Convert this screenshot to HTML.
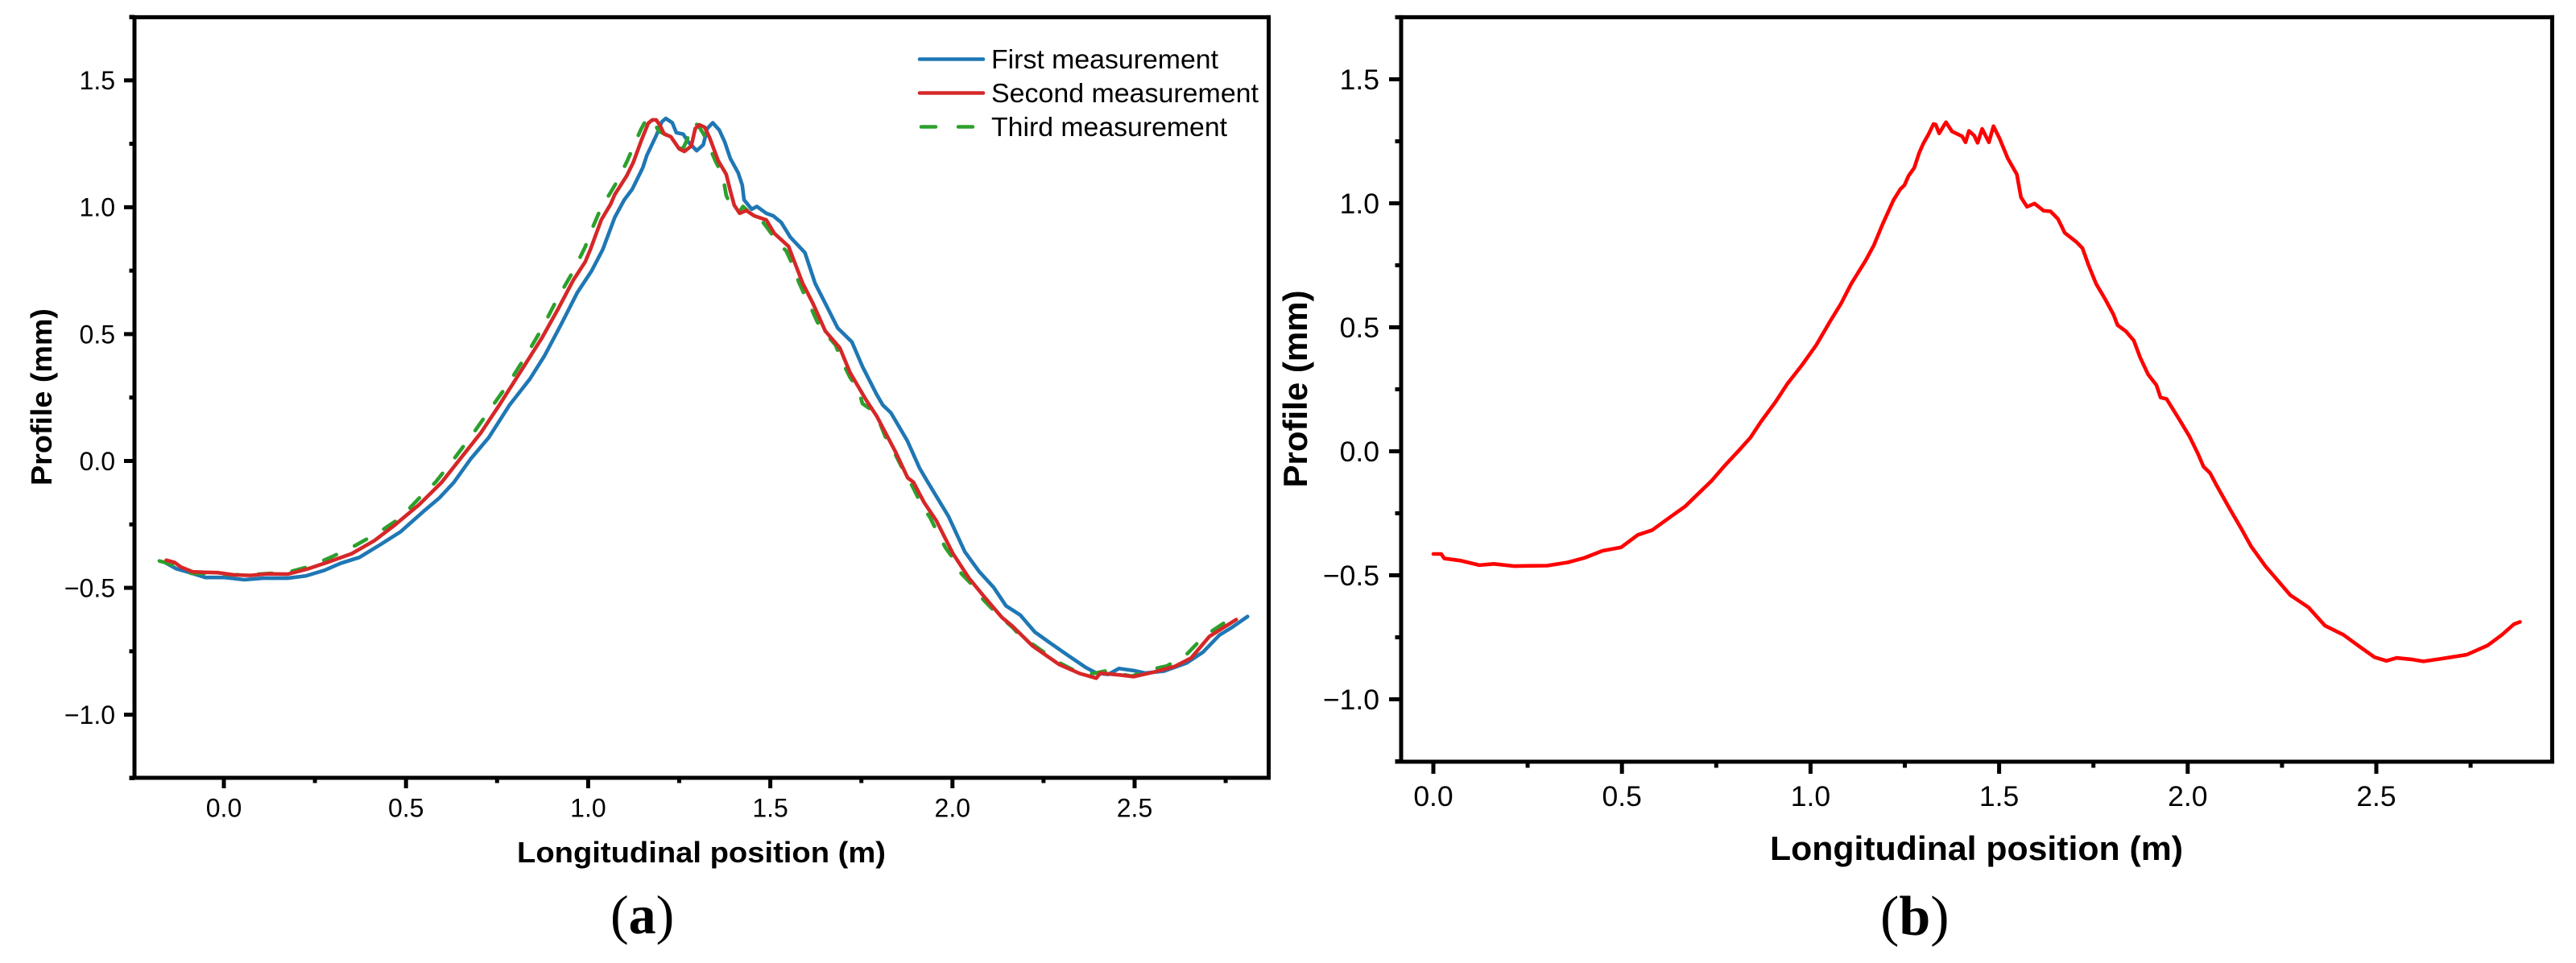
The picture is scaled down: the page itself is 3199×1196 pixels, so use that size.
<!DOCTYPE html>
<html lang="en">
<head>
<meta charset="utf-8">
<title>Longitudinal profile measurements</title>
<style>
html,body{margin:0;padding:0;background:#fff;}
svg{display:block;}
text{font-family:"Liberation Sans",Arial,sans-serif;fill:#000;}
.cap{font-family:"Liberation Serif","Times New Roman",serif;}
</style>
</head>
<body>
<svg id="figure" xmlns="http://www.w3.org/2000/svg" width="3199" height="1196" viewBox="0 0 3199 1196">
  <rect x="0" y="0" width="3199" height="1196" fill="#fff"/>
  <g id="panel-a"></g>
  <g id="panel-b"></g>

  <text x="871" y="1071" font-size="36" font-weight="bold" text-anchor="middle" textLength="458" lengthAdjust="spacingAndGlyphs">Longitudinal position (m)</text>
  <text transform="translate(64 493) rotate(-90)" font-size="36" font-weight="bold" text-anchor="middle" textLength="220" lengthAdjust="spacingAndGlyphs">Profile (mm)</text>
  <text x="2454.5" y="1068" font-size="42" font-weight="bold" text-anchor="middle" textLength="513" lengthAdjust="spacingAndGlyphs">Longitudinal position (m)</text>
  <text transform="translate(1623 483) rotate(-90)" font-size="42" font-weight="bold" text-anchor="middle" textLength="245" lengthAdjust="spacingAndGlyphs">Profile (mm)</text>

  <g>
    <line x1="1142" y1="73.5" x2="1221" y2="73.5" stroke="#1f77b4" stroke-width="4.5" stroke-linecap="round"/>
    <text x="1231" y="85" font-size="33" textLength="282" lengthAdjust="spacingAndGlyphs">First measurement</text>
    <line x1="1142" y1="115.5" x2="1221" y2="115.5" stroke="#d62728" stroke-width="4.5" stroke-linecap="round"/>
    <text x="1231" y="127" font-size="33" textLength="332" lengthAdjust="spacingAndGlyphs">Second measurement</text>
    <line x1="1144" y1="157.5" x2="1221" y2="157.5" stroke="#2ca02c" stroke-width="4.5" stroke-dasharray="18 28" stroke-linecap="round"/>
    <text x="1231" y="169" font-size="33" textLength="293" lengthAdjust="spacingAndGlyphs">Third measurement</text>
  </g>

  <text class="cap" x="758" y="1159" font-size="68">(<tspan font-weight="bold">a</tspan>)</text>
  <text class="cap" x="2335" y="1161" font-size="70">(<tspan font-weight="bold">b</tspan>)</text>
</svg>

<script>
// Tick values and printed labels
const xMajorTicks = [0, 0.5, 1, 1.5, 2, 2.5];
const xMajorLabels = ['0.0', '0.5', '1.0', '1.5', '2.0', '2.5'];
const xMinorTicks = [0.25, 0.75, 1.25, 1.75, 2.25, 2.75];
const yMajorTicks = [-1, -0.5, 0, 0.5, 1, 1.5];
const yMajorLabels = ['\u22121.0', '\u22120.5', '0.0', '0.5', '1.0', '1.5'];
const yMinorTicks = [-1.25, -0.75, -0.25, 0.25, 0.75, 1.25, 1.75];

// Panel (a): first measurement
const firstX = [-0.163,-0.158,-0.13,-0.096,-0.051,0,0.056,0.107,0.175,0.225,0.276,0.321,0.372,0.428,0.485,0.547,0.592,0.631,0.677,0.727,0.784,0.84,0.88,0.925,0.97,1.009,1.04,1.073,1.099,1.121,1.15,1.161,1.187,1.202,1.213,1.231,1.242,1.261,1.275,1.298,1.316,1.327,1.342,1.36,1.375,1.39,1.412,1.423,1.428,1.449,1.463,1.489,1.508,1.53,1.555,1.595,1.623,1.651,1.685,1.724,1.753,1.792,1.809,1.831,1.876,1.91,1.933,1.989,2.034,2.074,2.113,2.147,2.186,2.226,2.265,2.316,2.366,2.395,2.428,2.457,2.497,2.53,2.581,2.643,2.688,2.733,2.767,2.81];
const firstY = [-0.398,-0.403,-0.425,-0.439,-0.459,-0.459,-0.468,-0.462,-0.462,-0.453,-0.431,-0.403,-0.38,-0.331,-0.279,-0.2,-0.145,-0.085,0.007,0.092,0.22,0.323,0.414,0.536,0.663,0.748,0.833,0.96,1.029,1.071,1.156,1.204,1.283,1.336,1.35,1.333,1.294,1.288,1.257,1.223,1.246,1.31,1.333,1.304,1.257,1.193,1.135,1.087,1.029,0.992,1.003,0.976,0.966,0.94,0.882,0.821,0.7,0.621,0.524,0.469,0.372,0.262,0.22,0.19,0.08,-0.029,-0.085,-0.218,-0.358,-0.437,-0.498,-0.571,-0.607,-0.674,-0.714,-0.765,-0.814,-0.836,-0.841,-0.818,-0.826,-0.836,-0.828,-0.796,-0.753,-0.686,-0.656,-0.613];

// Panel (a): second measurement
const secondX = [-0.158,-0.135,-0.118,-0.085,-0.051,-0.017,0.028,0.073,0.118,0.175,0.231,0.287,0.35,0.412,0.468,0.536,0.598,0.648,0.705,0.756,0.818,0.874,0.919,0.959,0.992,1.006,1.036,1.062,1.073,1.106,1.124,1.147,1.165,1.176,1.187,1.198,1.209,1.227,1.25,1.264,1.283,1.294,1.305,1.32,1.334,1.357,1.379,1.39,1.401,1.416,1.434,1.456,1.489,1.511,1.55,1.589,1.617,1.651,1.691,1.719,1.764,1.792,1.843,1.877,1.893,1.922,1.956,2.001,2.045,2.09,2.136,2.164,2.22,2.293,2.35,2.395,2.406,2.463,2.497,2.553,2.61,2.655,2.705,2.779];
const secondY = [-0.391,-0.4,-0.418,-0.437,-0.439,-0.44,-0.449,-0.451,-0.445,-0.446,-0.425,-0.398,-0.366,-0.315,-0.254,-0.172,-0.084,0.007,0.11,0.22,0.36,0.487,0.603,0.712,0.785,0.833,0.95,1.013,1.05,1.124,1.177,1.267,1.331,1.344,1.344,1.32,1.288,1.278,1.23,1.22,1.241,1.31,1.325,1.315,1.272,1.183,1.13,1.066,1.008,0.976,0.987,0.966,0.95,0.897,0.846,0.7,0.621,0.512,0.445,0.348,0.238,0.177,0.038,-0.066,-0.084,-0.163,-0.236,-0.364,-0.461,-0.54,-0.617,-0.65,-0.729,-0.802,-0.838,-0.856,-0.836,-0.844,-0.85,-0.832,-0.81,-0.777,-0.692,-0.625];

// Panel (a): third measurement
const thirdX = [-0.177,-0.147,-0.118,-0.09,-0.039,0.028,0.096,0.175,0.237,0.299,0.361,0.428,0.485,0.541,0.581,0.631,0.682,0.733,0.784,0.829,0.874,0.913,0.959,0.992,1.006,1.029,1.043,1.064,1.082,1.108,1.123,1.144,1.161,1.176,1.194,1.224,1.241,1.26,1.272,1.285,1.301,1.317,1.334,1.351,1.369,1.379,1.395,1.412,1.425,1.449,1.471,1.491,1.519,1.544,1.561,1.578,1.595,1.612,1.629,1.648,1.679,1.696,1.719,1.741,1.753,1.777,1.803,1.815,1.837,1.856,1.877,1.893,1.916,1.939,1.962,1.981,2.007,2.024,2.056,2.075,2.109,2.131,2.165,2.188,2.227,2.272,2.295,2.335,2.358,2.392,2.426,2.465,2.493,2.521,2.55,2.589,2.645,2.673,2.702,2.747,2.764];
const thirdY = [-0.394,-0.406,-0.425,-0.443,-0.443,-0.449,-0.446,-0.439,-0.415,-0.376,-0.333,-0.279,-0.224,-0.139,-0.084,0.007,0.104,0.208,0.311,0.414,0.524,0.633,0.748,0.844,0.899,0.976,1.015,1.064,1.108,1.185,1.235,1.304,1.35,1.347,1.299,1.28,1.241,1.23,1.267,1.331,1.325,1.288,1.233,1.177,1.128,1.047,0.994,0.976,1.003,0.971,0.958,0.92,0.865,0.827,0.773,0.706,0.651,0.603,0.548,0.508,0.457,0.396,0.329,0.284,0.226,0.202,0.141,0.098,0.044,-0.011,-0.066,-0.108,-0.175,-0.224,-0.291,-0.342,-0.394,-0.443,-0.491,-0.532,-0.583,-0.613,-0.656,-0.692,-0.729,-0.775,-0.796,-0.826,-0.841,-0.836,-0.826,-0.841,-0.848,-0.832,-0.82,-0.808,-0.759,-0.717,-0.68,-0.637,-0.617];

// Panel (b): single profile
const profileX = [0,0.021,0.029,0.073,0.122,0.16,0.215,0.247,0.302,0.356,0.4,0.449,0.498,0.542,0.58,0.629,0.667,0.705,0.737,0.77,0.808,0.841,0.868,0.907,0.939,0.977,1.015,1.053,1.081,1.108,1.146,1.168,1.19,1.22,1.238,1.249,1.26,1.275,1.288,1.299,1.313,1.326,1.332,1.341,1.359,1.375,1.402,1.411,1.42,1.434,1.443,1.455,1.473,1.485,1.501,1.523,1.547,1.558,1.574,1.594,1.618,1.636,1.656,1.674,1.705,1.721,1.737,1.757,1.781,1.803,1.814,1.836,1.857,1.874,1.895,1.917,1.928,1.944,1.977,2.004,2.026,2.042,2.059,2.075,2.108,2.141,2.168,2.206,2.272,2.32,2.364,2.413,2.457,2.495,2.527,2.554,2.593,2.625,2.674,2.74,2.795,2.833,2.865,2.881];
const profileY = [-0.414,-0.414,-0.432,-0.441,-0.459,-0.454,-0.463,-0.462,-0.461,-0.448,-0.43,-0.401,-0.387,-0.337,-0.318,-0.264,-0.223,-0.167,-0.12,-0.062,0,0.056,0.118,0.199,0.273,0.347,0.428,0.527,0.596,0.676,0.769,0.831,0.912,1.013,1.057,1.073,1.111,1.143,1.203,1.241,1.279,1.32,1.317,1.282,1.327,1.29,1.27,1.246,1.292,1.273,1.244,1.3,1.246,1.311,1.262,1.181,1.117,1.024,0.986,0.999,0.97,0.968,0.937,0.881,0.844,0.819,0.751,0.676,0.614,0.552,0.509,0.484,0.447,0.378,0.31,0.267,0.217,0.211,0.13,0.062,-0.006,-0.062,-0.087,-0.133,-0.223,-0.309,-0.383,-0.463,-0.58,-0.629,-0.703,-0.74,-0.789,-0.83,-0.845,-0.833,-0.839,-0.847,-0.836,-0.82,-0.783,-0.74,-0.697,-0.688];

const SVG_NS = 'http://www.w3.org/2000/svg';

function makeLinear(domainA, rangeA, domainB, rangeB) {
  return function (v) {
    return rangeA + (v - domainA) * (rangeB - rangeA) / (domainB - domainA);
  };
}

function addLine(parent, x1, y1, x2, y2, width) {
  const el = document.createElementNS(SVG_NS, 'line');
  el.setAttribute('x1', x1);
  el.setAttribute('y1', y1);
  el.setAttribute('x2', x2);
  el.setAttribute('y2', y2);
  el.setAttribute('stroke', '#000');
  el.setAttribute('stroke-width', width);
  parent.appendChild(el);
  return el;
}

function addText(parent, x, y, str, size, anchor) {
  const el = document.createElementNS(SVG_NS, 'text');
  el.setAttribute('x', x);
  el.setAttribute('y', y);
  el.setAttribute('font-size', size);
  el.setAttribute('text-anchor', anchor);
  el.textContent = str;
  parent.appendChild(el);
  return el;
}

function addSeries(parent, xs, ys, xScale, yScale, color, dash) {
  const el = document.createElementNS(SVG_NS, 'polyline');
  const pts = xs.map(function (v, i) {
    return xScale(v).toFixed(2) + ',' + yScale(ys[i]).toFixed(2);
  });
  el.setAttribute('points', pts.join(' '));
  el.setAttribute('fill', 'none');
  el.setAttribute('stroke', color);
  el.setAttribute('stroke-width', '4.6');
  el.setAttribute('stroke-linejoin', 'round');
  el.setAttribute('stroke-linecap', 'round');
  if (dash) {
    el.setAttribute('stroke-dasharray', dash);
  }
  parent.appendChild(el);
  return el;
}

function drawFrame(g, p, xScale, yScale) {
  const axisLeft = addLine(g, p.left, p.top - 2.5, p.left, p.bottom + 2.5, 5);
  
  
  const axisBottom = addLine(g, p.left - p.minorLen, p.bottom, p.right + 2.5, p.bottom, 5);
  
  
  const axisTop = addLine(g, p.left - p.minorLen, p.top, p.right + 2.5, p.top, 5);
  
  
  const axisRight = addLine(g, p.right, p.top - 2.5, p.right, p.bottom + 2.5, 5);
  
  

  xMajorTicks.forEach(function (v, i) {
    const tick = addLine(g, xScale(v), p.bottom, xScale(v), p.bottom + p.majorLen, 5);
    
    
    const label = addText(g, xScale(v), p.xLabelY, xMajorLabels[i], p.tickFont, 'middle');
    
    
  });
  xMinorTicks.forEach(function (v) {
    const tick = addLine(g, xScale(v), p.bottom, xScale(v), p.bottom + p.minorLen, 5);
    
    
  });
  yMajorTicks.forEach(function (v, i) {
    const tick = addLine(g, p.left - p.majorLen, yScale(v), p.left, yScale(v), 5);
    
    
    const label = addText(g, p.yLabelX, yScale(v) + p.tickFont * 0.355, yMajorLabels[i], p.tickFont, 'end');
    
    
  });
  yMinorTicks.forEach(function (v) {
    const tick = addLine(g, p.left - p.minorLen, yScale(v), p.left, yScale(v), 5);
    
    
  });
}

// Panel (a)
const gA = document.getElementById('panel-a');
const frameA = {left: 167, right: 1575.5, top: 21.4, bottom: 966, majorLen: 13, minorLen: 6.5, tickFont: 32, xLabelY: 1014.5, yLabelX: 143};
const xA = makeLinear(0, 278, 2.5, 1409);
const yA = makeLinear(0, 572.5, 1.5, 99.8);
drawFrame(gA, frameA, xA, yA);
const lineFirst = addSeries(gA, firstX, firstY, xA, yA, '#1f77b4');


const lineSecond = addSeries(gA, secondX, secondY, xA, yA, '#d62728');


const lineThird = addSeries(gA, thirdX, thirdY, xA, yA, '#2ca02c', '17 25');


gA.insertBefore(lineThird, lineSecond);

// Panel (b)
const gB = document.getElementById('panel-b');
const frameB = {left: 1740, right: 3169.4, top: 21.4, bottom: 946, majorLen: 15, minorLen: 7.5, tickFont: 35.5, xLabelY: 1001, yLabelX: 1713};
const xB = makeLinear(0, 1780, 2.5, 2951);
const yB = makeLinear(0, 560.5, 1.5, 98.5);
drawFrame(gB, frameB, xB, yB);
const lineProfile = addSeries(gB, profileX, profileY, xB, yB, '#ff0000');


</script>
</body>
</html>
